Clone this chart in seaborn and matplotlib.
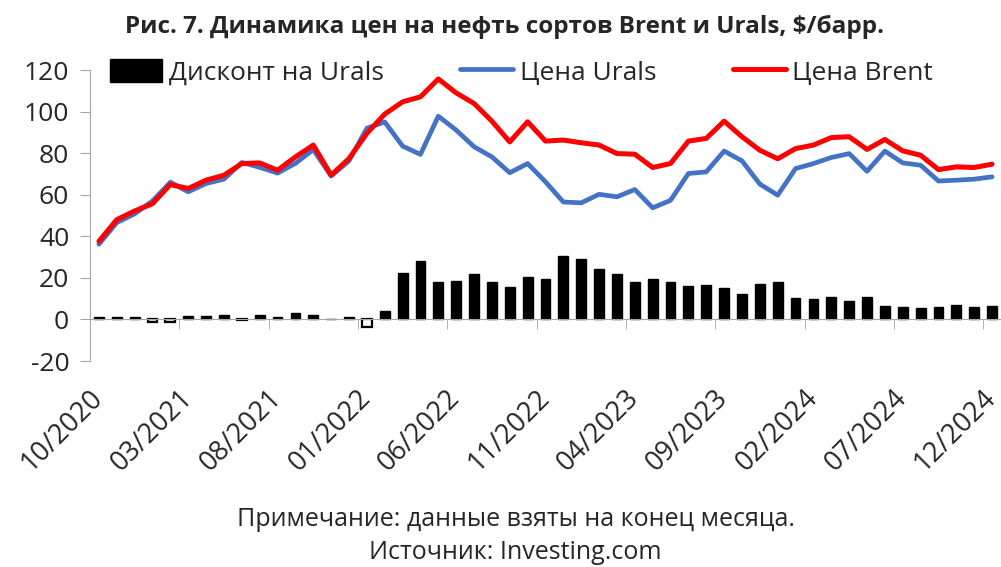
import matplotlib.pyplot as plt
import pandas as pd
import seaborn as sns

# Месяцы: с 10/2020 по 12/2024
months = pd.date_range('2020-10-01', '2024-12-01', freq='MS').strftime('%m/%Y').tolist()

# Цена Brent, $/барр.
brent = [37.6, 48.0, 52.2, 55.7, 64.9, 63.0, 67.0, 69.4, 75.0, 75.3, 71.8, 78.2, 83.9,
         69.4, 77.4, 89.5, 98.8, 104.7, 107.1, 115.7, 109.0, 103.9, 95.4, 85.4, 95.1,
         85.8, 86.3, 85.0, 83.9, 79.8, 79.5, 73.1, 75.0, 85.8, 87.1, 95.4, 87.9, 81.4,
         77.3, 82.2, 83.9, 87.5, 87.9, 81.8, 86.6, 81.1, 79.0, 72.1, 73.4, 73.1, 74.7]

# Цена Urals, $/барр.
urals = [36.2, 46.6, 50.8, 57.0, 66.0, 61.4, 65.4, 67.5, 75.5, 73.2, 70.4, 75.1, 81.7,
         69.0, 76.3, 92.0, 95.0, 83.4, 79.4, 97.8, 91.1, 83.1, 78.2, 70.6, 75.0,
         66.2, 56.5, 56.1, 60.2, 59.0, 62.5, 53.7, 57.3, 70.2, 71.0, 81.0, 76.3, 65.1,
         59.8, 72.6, 75.0, 77.9, 79.8, 71.3, 81.0, 75.3, 74.2, 66.6, 67.0, 67.5, 68.6]

# Дисконт на Urals
discount = [1.4, 1.4, 1.4, -1.3, -1.1, 1.6, 1.6, 1.9, -0.5, 2.1, 1.4, 3.1, 2.2, 0.4,
            1.1, -3.4, 4.2, 22.5, 28.3, 18.2, 18.6, 21.8, 18.2, 15.4, 20.4, 19.4,
            30.4, 28.9, 24.3, 21.8, 18.0, 19.6, 18.0, 16.1, 16.5, 15.3, 12.4, 16.9,
            17.8, 10.1, 9.6, 10.6, 8.8, 10.9, 6.7, 5.9, 5.3, 5.8, 7.1, 6.1, 6.7]

df = pd.DataFrame({'month': months, 'brent': brent, 'urals': urals, 'discount': discount})
df['pos'] = range(len(df))

sns.set_style('white')
plt.rcParams['font.family'] = ['Open Sans', 'DejaVu Sans']
plt.rcParams['axes.unicode_minus'] = False

fig = plt.figure(figsize=(10.01, 5.67), dpi=100)
ax = fig.add_axes([0.0899, 0.3633, 0.9101, 0.5132])

# Столбцы дисконта
sns.barplot(data=df, x='pos', y='discount', native_scale=True, color='black',
            width=0.55, saturation=1, label='Дисконт на Urals', ax=ax)
for patch, v in zip(ax.patches, discount):
    patch.set_edgecolor('black')
    patch.set_linewidth(1.0)
    if v < 0:
        patch.set_facecolor('white')
        patch.set_linewidth(1.6)

# Линии цен
sns.lineplot(data=df, x='pos', y='urals', color='#4472C4', lw=3.4,
             label='Цена Urals', ax=ax)
sns.lineplot(data=df, x='pos', y='brent', color='#FF0000', lw=3.6,
             label='Цена Brent', ax=ax)

ax.set_xlim(-0.5, len(df) - 0.5)
ax.set_ylim(-20, 120)
ax.set_yticks(range(-20, 121, 20))
ax.set_xlabel('')
ax.set_ylabel('')

axis_gray = '#A6A6A6'
for side in ['top', 'right']:
    ax.spines[side].set_visible(False)
ax.spines['left'].set_color(axis_gray)
ax.spines['bottom'].set_color(axis_gray)
ax.spines['bottom'].set_position(('data', 0))

ax.tick_params(axis='y', direction='out', length=7, color=axis_gray,
               labelsize=19, pad=8, left=True)

# Подписи каждые 5 месяцев, риски между категориями
label_pos = df['pos'][::5].tolist()
ax.set_xticks(label_pos)
ax.set_xticklabels(df['month'][::5], rotation=45, ha='right', va='center',
                   rotation_mode='anchor', fontsize=19.5)
ax.set_xticks([p + 4.5 for p in label_pos[:-1]], minor=True)
ax.tick_params(axis='x', which='major', length=0, pad=54)
ax.tick_params(axis='x', which='minor', direction='out', length=7,
               color=axis_gray, bottom=True)

handles, labels = ax.get_legend_handles_labels()
order = [labels.index('Дисконт на Urals'), labels.index('Цена Urals'),
         labels.index('Цена Brent')]
ax.legend([handles[i] for i in order], [labels[i] for i in order],
          loc='upper left', bbox_to_anchor=(0.01, 1.075), ncol=3, frameon=False,
          fontsize=19, handlelength=2.0, handleheight=1.0, handletextpad=0.25,
          columnspacing=2.9, borderaxespad=0)

fig.text(0.504, 0.952, 'Рис. 7. Динамика цен на нефть сортов Brent и Urals, $/барр.',
         ha='center', va='center', fontsize=17.5, fontweight='bold')
fig.text(0.515, 0.083, 'Примечание: данные взяты на конец месяца.',
         ha='center', va='center', fontsize=18)
fig.text(0.515, 0.025, 'Источник: Investing.com',
         ha='center', va='center', fontsize=18)

fig.savefig('out.png', dpi=100)
